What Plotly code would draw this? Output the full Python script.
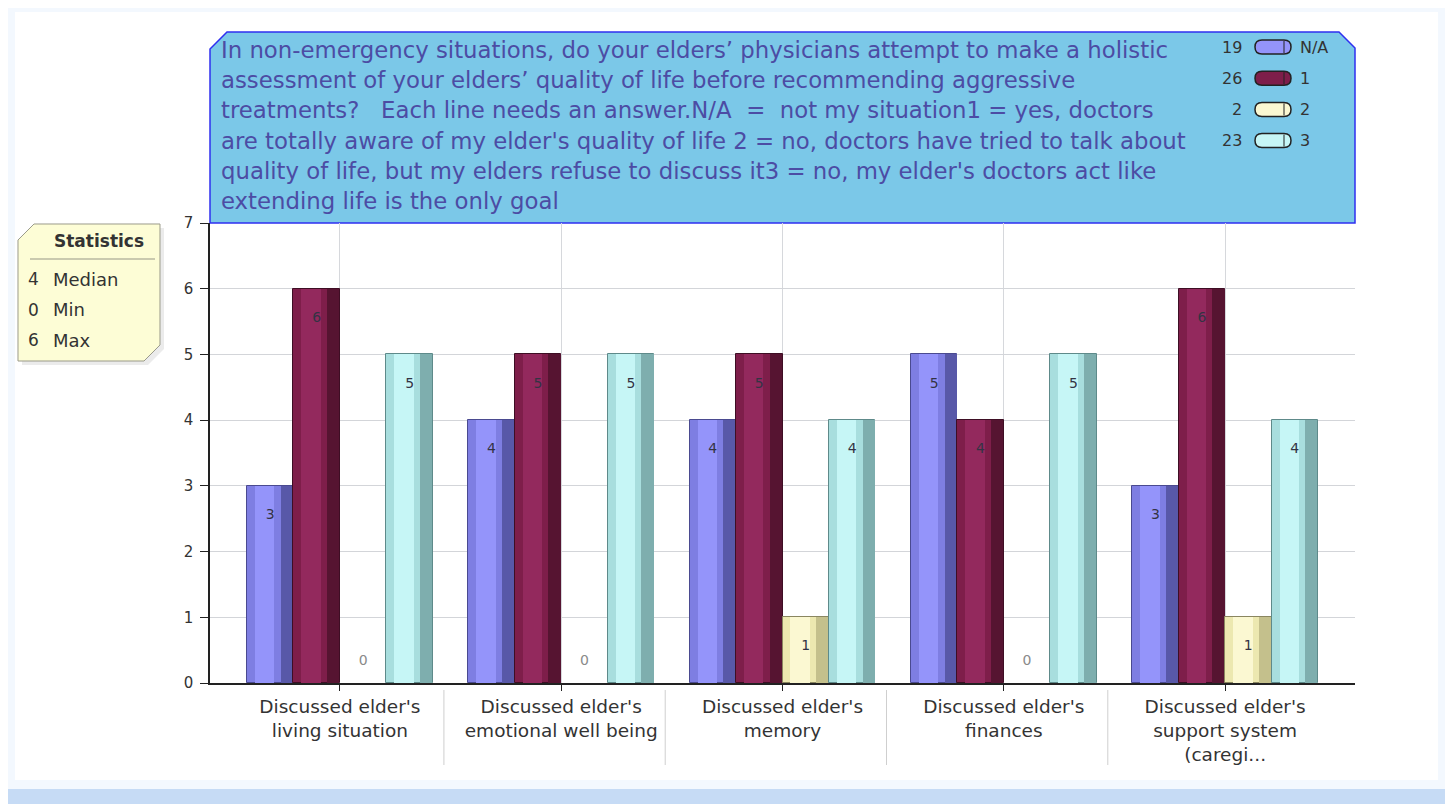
import plotly.graph_objects as go

# ---------------- data ----------------
categories = [
    "Discussed elder's<br>living situation",
    "Discussed elder's<br>emotional well being",
    "Discussed elder's<br>memory",
    "Discussed elder's<br>finances",
    "Discussed elder's<br>support system<br>(caregi...",
]
series_names = ["N/A", "1", "2", "3"]
vals_na = [3, 4, 4, 5, 3]
vals_1 = [6, 5, 5, 4, 6]
vals_2 = [0, 0, 1, 0, 1]
vals_3 = [5, 5, 4, 5, 4]
y_ticks = [0, 1, 2, 3, 4, 5, 6, 7]
title_lines = [
    "In non-emergency situations, do your elders\u2019 physicians attempt to make a holistic",
    "assessment of your elders\u2019 quality of life before recommending aggressive",
    "treatments?   Each line needs an answer.N/A  =  not my situation1 = yes, doctors",
    "are totally aware of my elder's quality of life 2 = no, doctors have tried to talk about",
    "quality of life, but my elders refuse to discuss it3 = no, my elder's doctors act like",
    "extending life is the only goal",
]

# ---------------- styles ----------------
series_vals = [vals_na, vals_1, vals_2, vals_3]
base_col = ["#7e7ee2", "#7e1e4a", "#ece8b0", "#a8dede"]
light_col = ["#9494fa", "#93295d", "#fbf8d2", "#c6f6f6"]
dark_col = ["#5858a8", "#561431", "#c4c08c", "#7eaeae"]
line_col = ["#4a4a90", "#3e0e24", "#8a8660", "#5e8a8a"]
offsets = [-0.315, -0.105, 0.105, 0.315]
bw = 0.21

OFF = 8  # page body margin
W, H = 1453 - OFF, 804 - OFF
ML, MT = 210 - OFF, 223 - OFF
MR = W - (1355 - OFF)
MB = H - (683 - OFF)
PW, PH = W - ML - MR, H - MT - MB
FONT = "DejaVu Sans, Liberation Sans, Arial, sans-serif"


def px(x):  # page pixel -> paper
    return (x - OFF - ML) / PW


def py(y):
    return (H - MB - (y - OFF)) / PH


fig = go.Figure()
ncat = len(categories)
for s, vals in enumerate(series_vals):
    xs = [i + offsets[s] for i in range(ncat)]
    lw = [1 if v > 0 else 0 for v in vals]
    fig.add_trace(go.Bar(x=xs, y=vals, width=bw, name=series_names[s],
                         marker=dict(color=base_col[s], line=dict(color=line_col[s], width=lw)),
                         showlegend=False, hoverinfo="y"))
    fig.add_trace(go.Bar(x=[x - 0.025 for x in xs], y=vals, width=bw * 0.42,
                         marker=dict(color=light_col[s], line=dict(width=0)),
                         showlegend=False, hoverinfo="skip"))
    fig.add_trace(go.Bar(x=[x + bw / 2 - 0.03 for x in xs], y=vals, width=0.055,
                         marker=dict(color=dark_col[s], line=dict(width=0)),
                         showlegend=False, hoverinfo="skip"))
    ty = [v - 0.45 if v > 0 else 0.32 for v in vals]
    tc = ["#333344" if v > 0 else "#8a8a8a" for v in vals]
    fig.add_trace(go.Scatter(x=xs, y=ty, mode="text", text=[str(v) for v in vals],
                             textfont=dict(family=FONT, size=14, color=tc),
                             showlegend=False, hoverinfo="skip"))

shapes = []
annotations = []

# page background panels
shapes.append(dict(type="rect", xref="paper", yref="paper", x0=px(15), x1=px(1438),
                   y0=py(780), y1=py(12), fillcolor="white", line=dict(width=0), layer="below"))
shapes.append(dict(type="rect", xref="paper", yref="paper", x0=px(0), x1=px(1460),
                   y0=py(810), y1=py(789), fillcolor="#c6dbf5", line=dict(width=0), layer="below"))

# title box with cut corners
tb = [(210, 223), (210, 49), (227, 32), (1339, 32), (1355, 48), (1355, 223)]
path = "M " + " L ".join(f"{px(a):.5f},{py(b):.5f}" for a, b in tb) + " Z"
shapes.append(dict(type="path", xref="paper", yref="paper", path=path,
                   fillcolor="#7bc8e8", line=dict(color="#2f2ff0", width=1.5), layer="below"))
for k, line in enumerate(title_lines):
    annotations.append(dict(xref="paper", yref="paper", x=px(219), y=py(50 + 30.2 * k),
                            xanchor="left", yanchor="middle", showarrow=False, text=line,
                            font=dict(family=FONT, size=22.8, color="#4c4ca4")))

# legend inside title box
for s, vals in enumerate(series_vals):
    cy = 47 + 31.2 * s
    annotations.append(dict(xref="paper", yref="paper", x=px(1244), y=py(cy), xanchor="right",
                            yanchor="middle", showarrow=False, text=str(sum(vals)),
                            font=dict(family=FONT, size=16, color="#333333")))
    shapes.append(dict(type="path", xref="paper", yref="paper",
                       path=(f"M {px(1262):.5f},{py(cy-7):.5f} L {px(1284):.5f},{py(cy-7):.5f} "
                             f"Q {px(1291):.5f},{py(cy-7):.5f} {px(1291):.5f},{py(cy):.5f} "
                             f"Q {px(1291):.5f},{py(cy+7):.5f} {px(1284):.5f},{py(cy+7):.5f} "
                             f"L {px(1262):.5f},{py(cy+7):.5f} "
                             f"Q {px(1255):.5f},{py(cy+7):.5f} {px(1255):.5f},{py(cy):.5f} "
                             f"Q {px(1255):.5f},{py(cy-7):.5f} {px(1262):.5f},{py(cy-7):.5f} Z"),
                       fillcolor=light_col[s] if s != 1 else base_col[s],
                       line=dict(color="#222222", width=1.5)))
    shapes.append(dict(type="line", xref="paper", yref="paper", x0=px(1284), x1=px(1284),
                       y0=py(cy - 6), y1=py(cy + 6), line=dict(color="#222222", width=1)))
    annotations.append(dict(xref="paper", yref="paper", x=px(1298), y=py(cy), xanchor="left",
                            yanchor="middle", showarrow=False, text=series_names[s],
                            font=dict(family=FONT, size=16, color="#333333")))

# statistics box
all_vals = sorted(v for vals in series_vals for v in vals)
n = len(all_vals)
median = (all_vals[n // 2 - 1] + all_vals[n // 2]) / 2 if n % 2 == 0 else all_vals[n // 2]
stats = [("Median", median), ("Min", min(all_vals)), ("Max", max(all_vals))]
sb = [(18, 240), (34, 224), (160, 224), (160, 345), (144, 361), (18, 361)]
sh = [(a + 4, b + 4) for a, b in sb]
shapes.append(dict(type="path", xref="paper", yref="paper",
                   path="M " + " L ".join(f"{px(a):.5f},{py(b):.5f}" for a, b in sh) + " Z",
                   fillcolor="rgba(0,0,0,0.08)", line=dict(width=0), layer="below"))
shapes.append(dict(type="path", xref="paper", yref="paper",
                   path="M " + " L ".join(f"{px(a):.5f},{py(b):.5f}" for a, b in sb) + " Z",
                   fillcolor="#fdfdd6", line=dict(color="#9a9a8a", width=1), layer="below"))
shapes.append(dict(type="line", xref="paper", yref="paper", x0=px(30), x1=px(155),
                   y0=py(259), y1=py(259), line=dict(color="#b8b8a0", width=1.5)))
annotations.append(dict(xref="paper", yref="paper", x=px(99), y=py(241), xanchor="center",
                        yanchor="middle", showarrow=False, text="<b>Statistics</b>",
                        font=dict(family=FONT, size=17, color="#333333")))
for k, (lab, v) in enumerate(stats):
    cy = 279 + 30.5 * k
    vs = str(int(v)) if float(v).is_integer() else str(v)
    annotations.append(dict(xref="paper", yref="paper", x=px(26), y=py(cy), xanchor="left",
                            yanchor="middle", showarrow=False, text=vs,
                            font=dict(family=FONT, size=17, color="#333333")))
    annotations.append(dict(xref="paper", yref="paper", x=px(51), y=py(cy), xanchor="left",
                            yanchor="middle", showarrow=False, text=lab,
                            font=dict(family=FONT, size=18, color="#333333")))

# separators between category labels
for i in range(ncat - 1):
    shapes.append(dict(type="line", xref="x", yref="paper", x0=i + 0.47, x1=i + 0.47,
                       y0=py(690), y1=py(765), line=dict(color="#cfcfcf", width=1)))

fig.update_layout(
    width=W, height=H,
    margin=dict(l=ML, r=MR, t=MT, b=MB),
    paper_bgcolor="#f3f8fe",
    plot_bgcolor="#e4e6ea",
    barmode="overlay",
    bargap=0,
    shapes=shapes,
    annotations=annotations,
    showlegend=False,
    font=dict(family=FONT, color="#333333"),
    xaxis=dict(range=[-0.587, ncat - 1 + 0.587], tickmode="array",
               tickvals=list(range(ncat)), ticktext=categories,
               tickfont=dict(family=FONT, size=18.5, color="#333333"),
               showgrid=True, gridcolor="#d6d8dc", gridwidth=1,
               showline=True, linecolor="#222222", linewidth=1.5,
               ticks="outside", ticklen=6, tickcolor="#222222", zeroline=False,
               fixedrange=True),
    yaxis=dict(range=[0, 7], tickmode="array", tickvals=y_ticks,
               tickfont=dict(family=FONT, size=15, color="#333333"),
               showgrid=True, gridcolor="#d3d5d9", gridwidth=1,
               showline=True, linecolor="#222222", linewidth=1.5,
               ticks="outside", ticklen=8, tickcolor="#222222", zeroline=False,
               ticklabelstandoff=4, fixedrange=True),
)

fig.write_html("out.html")
